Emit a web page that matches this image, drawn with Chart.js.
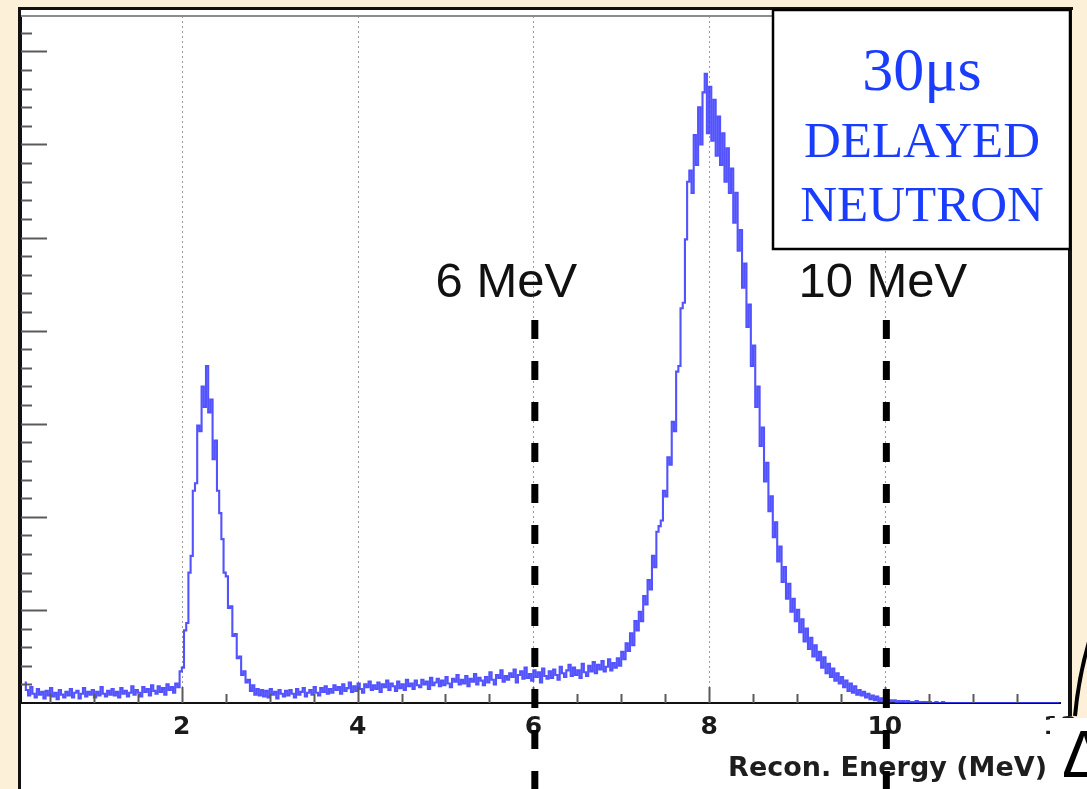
<!DOCTYPE html>
<html>
<head>
<meta charset="utf-8">
<script src="https://cdn.jsdelivr.net/npm/chart.js@4.4.1/dist/chart.umd.min.js"></script>
<style>
  html, body { margin: 0; padding: 0; background: #fdf0d9; }
  canvas { display: block; }
</style>
</head>
<body>
<canvas id="energyChart" width="1087" height="789"></canvas>
<script>
// Reconstructed energy of delayed-neutron candidates (30 us window)
// Histogram bins: 0.025 MeV wide, first bin starts at 0.2 MeV
const BIN_START = 0.2;
const BIN_WIDTH = 0.025;

// one row = 0.25 MeV
const counts = [
  22, 14, 8, 17, 10, 6, 15, 9, 12, 5,           // 0.20
  13, 8, 16, 7, 11, 4, 14, 9, 6, 12,            // 0.45
  8, 15, 6, 11, 13, 5, 10, 16, 7, 12,           // 0.70
  9, 14, 6, 12, 8, 17, 10, 7, 13, 9,            // 0.95
  15, 8, 12, 6, 16, 10, 13, 7, 11, 18,          // 1.20
  9, 14, 11, 7, 17, 12, 15, 8, 19, 13,          // 1.45
  10, 18, 12, 16, 9, 20, 14, 17, 11, 21,        // 1.70
  17, 34, 38, 78, 86, 140, 158, 228, 236, 298,  // 1.95
  292, 340, 318, 362, 312, 326, 262, 282, 228, 204, // 2.20
  176, 140, 136, 102, 104, 72, 74, 48, 50, 30,  // 2.45
  34, 22, 25, 13, 19, 9, 15, 8, 14, 7,          // 2.70
  13, 6, 15, 9, 12, 5, 14, 10, 7, 13,           // 2.95
  8, 14, 10, 6, 15, 9, 12, 16, 7, 11,           // 3.20
  14, 9, 17, 11, 8, 16, 12, 18, 10, 15,         // 3.45
  11, 19, 14, 17, 10, 20, 13, 16, 22, 12,       // 3.70
  18, 13, 21, 15, 11, 20, 17, 23, 14, 19,       // 3.95
  15, 22, 12, 20, 17, 24, 14, 21, 18, 13,       // 4.20
  23, 16, 20, 14, 25, 18, 21, 15, 24, 19,       // 4.45
  17, 25, 20, 23, 15, 27, 19, 22, 26, 18,       // 4.70
  24, 19, 28, 21, 17, 26, 23, 30, 20, 25,       // 4.95
  21, 29, 18, 26, 23, 31, 20, 27, 24, 19,       // 5.20
  28, 22, 33, 25, 20, 30, 27, 35, 23, 29,       // 5.45
  25, 32, 28, 36, 22, 30, 34, 26, 38, 27,       // 5.70
  31, 24, 35, 28, 33, 22, 37, 29, 26, 34,       // 5.95
  27, 36, 30, 25, 39, 32, 28, 35, 41, 29,       // 6.20
  38, 30, 35, 27, 42, 33, 29, 40, 34, 44,       // 6.45
  32, 41, 36, 45, 34, 39, 47, 35, 43, 38,       // 6.70
  48, 40, 55, 47, 64, 56, 75, 62, 88, 78,       // 6.95
  98, 88, 115, 106, 132, 122, 158, 146, 184, 190, // 7.20
  196, 228, 222, 264, 256, 302, 292, 356, 362, 424, // 7.45
  430, 498, 560, 572, 548, 610, 578, 640, 600, 656, // 7.70
  676, 612, 662, 604, 648, 588, 630, 578, 612, 560, // 7.95
  596, 548, 574, 516, 548, 486, 508, 446, 472, 404, // 8.20
  428, 362, 384, 318, 340, 276, 296, 238, 258, 206, // 8.45
  222, 178, 194, 152, 168, 130, 146, 112, 128, 98, // 8.70
  112, 88, 100, 76, 90, 66, 80, 58, 70, 50,     // 8.95
  62, 46, 55, 38, 49, 32, 42, 28, 37, 24,       // 9.20
  32, 21, 28, 17, 24, 13, 21, 11, 18, 9,        // 9.45
  14, 8, 12, 6, 10, 4, 8, 3, 7, 2,              // 9.70
  5, 2, 4, 1, 3, 2, 3, 1, 2, 1,                 // 9.95
  2, 0, 2, 1, 1, 0, 2, 1, 0, 1,                 // 10.20
  1, 0, 1, 0, 0, 1, 0, 0, 1, 0,                 // 10.45
  0, 0, 0, 0, 0, 0, 0, 0, 0, 0,                 // 10.70
  0, 0, 0, 0, 0, 0, 0, 0, 0, 0,                 // 10.95
  0, 0, 0, 0, 0, 0, 0, 0, 0, 0,                 // 11.20
  0, 0, 0, 0, 0, 0, 0, 0, 0, 0,                 // 11.45
  0, 0, 0, 0, 0, 0, 0, 0, 0, 0,                 // 11.70
  0, 0,                                         // 11.95
];

// energy cuts marked with dashed lines
const cutEnergies = [6, 10];
const cutLabels = ["6 MeV", "10 MeV"];
const cutLabelShift = [-27, -2];

const boxLines = ["30μs", "DELAYED", "NEUTRON"];
const axisTitle = "Recon. Energy (MeV)";

const X_MIN = 0.17;
const X_MAX = 12;
const Y_MAX = 738;

const BEIGE = "#fdf0d9";
const HIST_BLUE = "rgba(58, 58, 255, 0.88)";
const TEXT_BLUE = "#1a3cff";

const points = counts.map((c, i) => ({ x: BIN_START + BIN_WIDTH * (i + 0.5), y: c }));

const strokeLine = (ctx, x1, y1, x2, y2) => {
  ctx.beginPath();
  ctx.moveTo(x1, y1);
  ctx.lineTo(x2, y2);
  ctx.stroke();
};

// slide background + white figure panel
const backdropPlugin = {
  id: "backdrop",
  beforeDraw(chart) {
    const ctx = chart.ctx;
    ctx.save();
    ctx.fillStyle = BEIGE;
    ctx.fillRect(0, 0, chart.width, chart.height);
    ctx.fillStyle = "#ffffff";
    ctx.fillRect(18, 7, 1054, chart.height - 7);
    ctx.restore();
  },
  // dotted grid at the labelled energies
  beforeDatasetsDraw(chart) {
    const { ctx, chartArea: area } = chart;
    const xs = chart.scales.x;
    ctx.save();
    ctx.strokeStyle = "#9a9a9a";
    ctx.lineWidth = 1;
    ctx.setLineDash([2, 3]);
    xs.ticks.forEach((t) => {
      const px = Math.round(xs.getPixelForValue(t.value)) + 0.5;
      if (px < area.right - 2) strokeLine(ctx, px, area.top, px, area.bottom);
    });
    ctx.restore();
  },
};

// ROOT-style inner ticks, frame, cut lines, labels
const overlayPlugin = {
  id: "overlay",
  afterDraw(chart) {
    const { ctx, chartArea: area } = chart;
    const xs = chart.scales.x;
    const ys = chart.scales.y;
    ctx.save();

    // top frame of the pad
    ctx.strokeStyle = "#8c8c8c";
    ctx.lineWidth = 2;
    strokeLine(ctx, area.left, area.top, area.right, area.top);

    // y ticks: major every 100, minor every 20
    ctx.strokeStyle = "#5a5a5a";
    ctx.lineWidth = 2;
    for (let v = 20; v <= ys.max; v += 20) {
      const py = Math.round(ys.getPixelForValue(v)) + 0.5;
      const len = v % 100 === 0 ? 26 : 11;
      strokeLine(ctx, area.left, py, area.left + len, py);
    }

    // x ticks: major every 2, minor every 0.5, pointing up
    for (let k = 1; k < 24; k++) {
      const v = k * 0.5;
      const px = Math.round(xs.getPixelForValue(v)) + 0.5;
      const len = k % 4 === 0 ? 16 : 9;
      strokeLine(ctx, px, area.bottom, px, area.bottom - len);
    }

    // figure panel border
    ctx.strokeStyle = "#111";
    ctx.lineWidth = 3;
    strokeLine(ctx, 19.5, 7, 19.5, chart.height);
    strokeLine(ctx, 18, 8.5, 1073, 8.5);
    ctx.lineWidth = 4;
    strokeLine(ctx, 1070, 7, 1070, 716);

    // x axis title
    ctx.fillStyle = "#1e1e1e";
    ctx.font = 'bold 27px "DejaVu Sans"';
    ctx.textAlign = "right";
    ctx.textBaseline = "alphabetic";
    ctx.fillText(axisTitle, 1047, 776);

    // cut labels
    ctx.fillStyle = "#111";
    ctx.font = '49px "Liberation Sans"';
    ctx.textAlign = "center";
    cutEnergies.forEach((e, i) => {
      ctx.fillText(cutLabels[i], xs.getPixelForValue(e) + cutLabelShift[i], 297);
    });

    // dashed cut lines
    ctx.strokeStyle = "#000";
    ctx.lineWidth = 7;
    ctx.setLineDash([19, 22]);
    cutEnergies.forEach((e) => {
      const px = xs.getPixelForValue(e) + 1.5;
      strokeLine(ctx, px, 320, px, chart.height);
    });
    ctx.setLineDash([]);

    // text box
    ctx.fillStyle = "#ffffff";
    ctx.fillRect(773, 10, 297, 239);
    ctx.strokeStyle = "#000";
    ctx.lineWidth = 2.5;
    ctx.strokeRect(773, 10, 297, 239);
    ctx.fillStyle = TEXT_BLUE;
    ctx.textAlign = "center";
    ctx.font = '62px "Liberation Serif"';
    ctx.fillText(boxLines[0], 922, 90);
    ctx.font = '51px "Liberation Serif"';
    ctx.fillText(boxLines[1], 922, 157);
    ctx.fillText(boxLines[2], 922, 221);

    // neighbouring slide shapes at the lower right
    ctx.fillStyle = "#ffffff";
    ctx.fillRect(1050, 718, 37, chart.height - 718);
    ctx.strokeStyle = "#000";
    ctx.lineWidth = 4;
    ctx.beginPath();
    ctx.moveTo(1075, 716);
    ctx.quadraticCurveTo(1079, 672, 1092, 632);
    ctx.stroke();
    ctx.fillStyle = "#000";
    ctx.font = '66px "Liberation Sans"';
    ctx.textAlign = "left";
    ctx.fillText("Δ", 1062, 777);

    ctx.restore();
  },
};

new Chart(document.getElementById("energyChart").getContext("2d"), {
  type: "line",
  data: {
    datasets: [
      {
        data: points,
        borderColor: HIST_BLUE,
        borderWidth: 2.1,
        pointRadius: 0,
        stepped: "middle",
        fill: false,
      },
    ],
  },
  options: {
    responsive: false,
    animation: false,
    events: [],
    layout: {
      autoPadding: false,
      padding: { left: 21, top: 16, right: 20, bottom: 0 },
    },
    plugins: {
      legend: { display: false },
      tooltip: { enabled: false },
    },
    scales: {
      x: {
        type: "linear",
        min: X_MIN,
        max: X_MAX,
        afterFit: (scale) => { scale.height = 86; },
        ticks: {
          stepSize: 2,
          includeBounds: false,
          padding: 9,
          color: "#1a1a1a",
          font: { family: "DejaVu Sans", size: 25, weight: "bold" },
          maxRotation: 0,
        },
        grid: { display: false, drawTicks: false },
        border: { display: true, color: "#111", width: 2 },
      },
      y: {
        min: 0,
        max: Y_MAX,
        afterFit: (scale) => { scale.width = 0; },
        ticks: { display: false },
        grid: { display: false, drawTicks: false },
        border: { display: true, color: "#111", width: 2 },
      },
    },
  },
  plugins: [backdropPlugin, overlayPlugin],
});
</script>
</body>
</html>
